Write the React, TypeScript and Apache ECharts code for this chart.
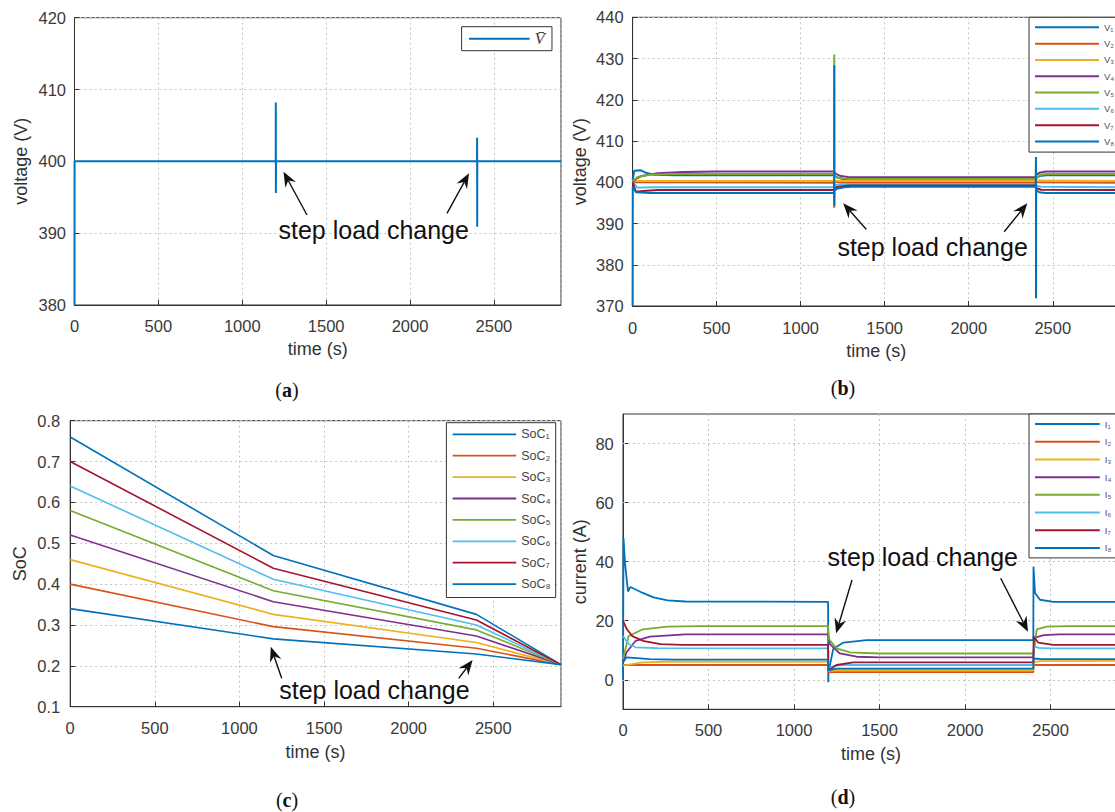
import React, { useEffect, useRef } from "react";
import * as echarts from "echarts";

// ---------------- DATA ----------------
const timeTickInterval = 500;
const timeMax = 2900;

// (a) mean bus voltage
const vMean = [[0, 380], [0.5, 400], [1199.5, 400], [1200, 408.2], [1200.5, 395.6], [1201, 400], [2399.5, 400], [2400, 403.3], [2400.5, 390.9], [2401, 400], [2900, 400]];

// (b) converter voltages
const v1 = [[0, 400.5], [10, 402.8], [50, 402.9], [80, 402.3], [130, 401.8], [250, 401.7], [1199, 401.7], [1201, 401.5], [1215, 401.2], [1250, 400.8], [1300, 400.6], [2399, 400.6], [2401, 401.0], [2420, 401.5], [2460, 401.7], [2900, 401.7]];
const v2 = [[0, 400.0], [1199, 399.9], [1200, 393.8], [1200.3, 400.1], [1230, 400.0], [2399, 400.0], [2401, 399.9], [2900, 399.9]];
const v3 = [[0, 400.3], [1199, 400.3], [1201, 400.4], [2399, 400.4], [2401, 400.3], [2900, 400.3]];
const v4 = [[0, 400.0], [20, 400.8], [60, 401.6], [150, 402.2], [300, 402.5], [500, 402.6], [1199, 402.6], [1200, 402.4], [1215, 401.9], [1240, 401.5], [1290, 401.2], [2399, 401.2], [2401, 401.8], [2420, 402.3], [2460, 402.6], [2900, 402.6]];
const v5 = [[0, 400.2], [30, 401.3], [100, 401.8], [250, 402.0], [1199, 402.0], [1200, 431.0], [1200.3, 401.5], [1215, 401.2], [1250, 400.9], [1300, 400.8], [2399, 400.8], [2400, 405.0], [2400.3, 401.0], [2420, 401.7], [2460, 402.0], [2900, 402.0]];
const v6 = [[0, 400.0], [30, 398.7], [100, 398.8], [1199, 398.8], [1201, 399.2], [1230, 399.5], [1280, 399.6], [2399, 399.6], [2401, 399.2], [2430, 398.9], [2900, 398.8]];
const v7 = [[0, 400.0], [20, 397.7], [60, 397.9], [150, 398.1], [1199, 398.1], [1201, 398.6], [1230, 399.0], [1290, 399.2], [2399, 399.2], [2401, 398.6], [2430, 398.2], [2900, 398.1]];
const v8 = [[0, 370], [1, 399], [20, 397.6], [100, 397.4], [1199, 397.4], [1200, 428.4], [1200.3, 394.3], [1201, 398.0], [1220, 398.5], [1260, 398.8], [1300, 398.9], [2399, 398.9], [2400, 406.1], [2400.3, 371.9], [2401, 398.0], [2420, 397.6], [2460, 397.4], [2900, 397.4]];

// (c) state of charge
const socTimes = [0, 1200, 2400, 2900];
const soc1 = [0.76, 0.470, 0.326, 0.203];
const soc2 = [0.40, 0.296, 0.243, 0.203];
const soc3 = [0.46, 0.326, 0.257, 0.203];
const soc4 = [0.52, 0.357, 0.273, 0.203];
const soc5 = [0.58, 0.384, 0.288, 0.203];
const soc6 = [0.64, 0.412, 0.300, 0.203];
const soc7 = [0.70, 0.439, 0.312, 0.203];
const soc8 = [0.34, 0.266, 0.229, 0.203];

// (d) converter currents
const i1 = [[0, 0], [3, 48], [12, 39.4], [29, 29.9], [43, 31.4], [116, 29.4], [178, 27.9], [261, 26.9], [364, 26.5], [1199, 26.4], [1200, -0.8], [1202, 2.6], [1229, 10.4], [1288, 12.6], [1424, 13.4], [2399, 13.4], [2400, 38.3], [2409, 29.4], [2438, 27.1], [2516, 26.4], [2900, 26.4]];
const i2 = [[0, 5.0], [1199, 5.0], [1201, 2.6], [2399, 2.6], [2401, 5.0], [2900, 5.0]];
const i3 = [[0, 4.8], [116, 5.9], [250, 6.1], [1199, 6.1], [1201, 3.0], [1240, 3.3], [2399, 3.3], [2401, 6.0], [2440, 6.3], [2900, 6.4]];
const i4 = [[0, 5.9], [21, 9.3], [74, 13.2], [157, 14.6], [364, 15.4], [1199, 15.4], [1210, 12.1], [1268, 8.9], [1366, 7.8], [1500, 7.6], [2399, 7.6], [2409, 14.3], [2460, 15.1], [2550, 15.4], [2900, 15.4]];
const i5 = [[0, 7.0], [33, 14.8], [116, 17.1], [261, 18.0], [450, 18.2], [1199, 18.2], [1205, 13.7], [1249, 10.6], [1327, 9.3], [1500, 8.9], [2399, 8.9], [2419, 17.1], [2477, 18.0], [2600, 18.2], [2900, 18.2]];
const i6 = [[0, 14.8], [33, 12.1], [74, 11.0], [200, 10.7], [1199, 10.6], [1201, 4.0], [1240, 4.8], [1300, 5.0], [2399, 5.0], [2402, 11.5], [2430, 10.8], [2500, 10.6], [2900, 10.6]];
const i7 = [[0, 19.9], [23, 17.1], [54, 14.8], [116, 13.2], [219, 12.1], [350, 11.8], [1199, 11.8], [1201, 3.1], [1249, 5.0], [1346, 5.9], [2399, 5.9], [2401, 14.6], [2428, 12.6], [2516, 11.8], [2900, 11.8]];
const i8 = [[0, 5.9], [21, 7.6], [157, 7.0], [300, 6.8], [1199, 6.8], [1201, 3.2], [1250, 3.8], [2399, 3.8], [2401, 7.2], [2450, 7.0], [2900, 7.0]];
const currentTicks = [0, 20, 40, 60, 80];

const vNames = ["V\u2081", "V\u2082", "V\u2083", "V\u2084", "V\u2085", "V\u2086", "V\u2087", "V\u2088"];
const socNames = ["SoC\u2081", "SoC\u2082", "SoC\u2083", "SoC\u2084", "SoC\u2085", "SoC\u2086", "SoC\u2087", "SoC\u2088"];
const iNames = ["I\u2081", "I\u2082", "I\u2083", "I\u2084", "I\u2085", "I\u2086", "I\u2087", "I\u2088"];
const meanName = "V\u0304";
const annotationText = "step load change";

// ---------------- STYLE ----------------
const COLORS = ["#0072BD", "#D95319", "#EDB120", "#7E2F8E", "#77AC30", "#4DBEEE", "#A2142F", "#0072BD"];
const SANS = "'Liberation Sans', Arial, Helvetica, sans-serif";
const SERIF = "'Liberation Serif', 'Times New Roman', serif";
const AXIS_COLOR = "#333";
const GRID_LINE = { color: "#c4c4c4", type: [2, 3] as any, width: 1 };
const plain = (v: number) => String(Math.round(v * 1000) / 1000);

function xAxisFor(gi: number, margin: number, nameGap: number) {
  return {
    type: "value", gridIndex: gi, min: 0, max: timeMax, interval: timeTickInterval,
    name: "time (s)", nameLocation: "middle", nameGap,
    nameTextStyle: { fontSize: 18, color: "#333", fontFamily: SANS },
    axisLine: { show: true, onZero: false, lineStyle: { color: AXIS_COLOR } },
    axisTick: { show: true, inside: true, length: 5, lineStyle: { color: AXIS_COLOR } },
    axisLabel: { margin, fontSize: 16.5, color: "#3a3a3a", fontFamily: SANS, showMaxLabel: false, formatter: plain },
    splitLine: { show: true, lineStyle: GRID_LINE },
  };
}

function yAxisFor(gi: number, name: string, min: number, max: number, interval: number | undefined, nameGap: number, margin: number, extra: any = {}) {
  return {
    type: "value", gridIndex: gi, min, max, interval,
    name, nameLocation: "middle", nameGap,
    nameTextStyle: { fontSize: 18, color: "#333", fontFamily: SANS },
    axisLine: { show: true, onZero: false, lineStyle: { color: AXIS_COLOR } },
    axisTick: { show: true, inside: true, length: 5, lineStyle: { color: AXIS_COLOR }, ...(extra.axisTick || {}) },
    axisLabel: { margin, fontSize: 16.5, color: "#3a3a3a", fontFamily: SANS, formatter: plain, ...(extra.axisLabel || {}) },
    splitLine: { show: true, lineStyle: GRID_LINE, ...(extra.splitLine || {}) },
  };
}

function lineSeries(name: string, data: any[], color: string, gi: number, width: number, extra: any = {}) {
  return {
    type: "line", name, data, xAxisIndex: gi, yAxisIndex: gi,
    symbol: "none", showSymbol: false, smooth: false, clip: true,
    lineStyle: { color, width }, itemStyle: { color },
    emphasis: { disabled: true }, silent: true, z: 3,
    ...extra,
  };
}

function arrow(x1: number, y1: number, x2: number, y2: number) {
  const dx = x2 - x1, dy = y2 - y1;
  const L = Math.hypot(dx, dy);
  const ux = dx / L, uy = dy / L, px = -uy, py = ux;
  const hl = 15, hw = 6, notch = 10;
  const bx = x2 - ux * hl, by = y2 - uy * hl;
  const nx = x2 - ux * notch, ny = y2 - uy * notch;
  return [
    { type: "line", shape: { x1, y1, x2: nx, y2: ny }, style: { stroke: "#111", lineWidth: 1.4 }, z: 50 },
    { type: "polygon", shape: { points: [[x2, y2], [bx + px * hw, by + py * hw], [nx, ny], [bx - px * hw, by - py * hw]] }, style: { fill: "#111" }, z: 50 },
  ];
}

function annText(x: number, y: number) {
  return { type: "text", x, y, z: 50, style: { text: annotationText, fill: "#111", font: `25px ${SANS}`, align: "center", verticalAlign: "middle" } };
}

function caption(letter: string, x: number, y: number) {
  return {
    type: "text", x, y, z: 50,
    style: {
      text: `{p|(}{b|${letter}}{p|)}`, align: "center", verticalAlign: "middle",
      rich: {
        p: { fontFamily: SERIF, fontSize: 20, fill: "#111", color: "#111" },
        b: { fontFamily: SERIF, fontSize: 20, fontWeight: "bold", fill: "#111", color: "#111" },
      },
    },
  };
}

function buildOption() {
  const grids = [
    { left: 74.5, top: 17.7, width: 486.5, height: 287.3 },
    { left: 632.6, top: 17.3, width: 487.4, height: 288.7 },
    { left: 70.2, top: 420.7, width: 490.8, height: 286 },
    { left: 623, top: 414, width: 496, height: 295.3 },
  ].map((g) => ({ ...g, show: true, borderColor: AXIS_COLOR, borderWidth: 1, backgroundColor: "#fff", containLabel: false, outerBoundsMode: "none" }));

  const series: any[] = [];
  series.push(lineSeries(meanName, vMean, COLORS[0], 0, 2));
  [v1, v2, v3, v4, v5, v6, v7, v8].forEach((d, k) => series.push(lineSeries(vNames[k], d, COLORS[k], 1, 2)));
  [soc1, soc2, soc3, soc4, soc5, soc6, soc7, soc8].forEach((vals, k) =>
    series.push(lineSeries(socNames[k], socTimes.map((t, j) => [t, vals[j]]), COLORS[k], 2, 1.6)));
  [i1, i2, i3, i4, i5, i6, i7, i8].forEach((d, k) =>
    series.push(lineSeries(iNames[k], d, COLORS[k], 3, 1.8, k === 0 ? {
      markLine: {
        silent: true, z: 1, symbol: ["none", "none"], label: { show: false },
        lineStyle: { ...GRID_LINE }, emphasis: { disabled: true },
        data: currentTicks.map((v) => ({ yAxis: v })),
      },
    } : {})));

  const legendBase = {
    orient: "vertical", itemGap: 0, backgroundColor: "#fff", borderColor: "#333", borderWidth: 1,
    borderRadius: 0, selectedMode: false, icon: "rect",
  };

  const legends = [
    {
      ...legendBase, left: 461.6, top: 26.7, padding: [0, 7, 0, 7.4], itemWidth: 60.6, itemHeight: 2,
      data: [meanName],
      textStyle: { fontSize: 17, fontStyle: "italic", fontFamily: SERIF, color: "#444", lineHeight: 24 },
    },
    {
      ...legendBase, left: 1029, top: 17.3, padding: [1.9, 8, 2.5, 6], itemWidth: 64, itemHeight: 2,
      data: vNames,
      textStyle: { fontSize: 9.5, color: "#555", fontFamily: SANS, lineHeight: 16.3 },
    },
    {
      ...legendBase, left: 446.4, top: 422.7, padding: [0.9, 5, 2.7, 6.2], itemWidth: 63.6, itemHeight: 1.8,
      data: socNames,
      textStyle: { fontSize: 12.5, color: "#444", fontFamily: SANS, lineHeight: 21.4 },
    },
    {
      ...legendBase, left: 1029, top: 414, padding: [1.2, 8, 1.1, 6], itemWidth: 64.8, itemHeight: 2,
      data: iNames,
      textStyle: { fontSize: 9.5, color: "#555", fontFamily: SANS, lineHeight: 17.7 },
    },
  ];

  const graphic: any[] = [
    annText(373.7, 230), ...arrow(307, 215, 283.5, 171.7), ...arrow(447, 213.3, 469, 173.3),
    annText(932.6, 246.7), ...arrow(866.2, 229.3, 843.2, 203.3), ...arrow(1004.2, 231.7, 1027.3, 203.3),
    annText(374.4, 690), ...arrow(281.7, 678.3, 270.8, 646.7), ...arrow(458.7, 678.3, 472.6, 660),
    annText(922.8, 556.7), ...arrow(852, 580, 836.1, 633.3), ...arrow(1000.7, 578.3, 1028, 631.7),
    caption("a", 287, 390), caption("b", 843, 388.3), caption("c", 287, 800), caption("d", 843, 797),
  ];

  return {
    animation: false,
    backgroundColor: "#fff",
    textStyle: { fontFamily: SANS },
    grid: grids,
    xAxis: [xAxisFor(0, 12, 35), xAxisFor(1, 13, 36), xAxisFor(2, 12.5, 36), xAxisFor(3, 12.6, 36)],
    yAxis: [
      yAxisFor(0, "voltage (V)", 380, 420, 10, 45, 8.5),
      yAxisFor(1, "voltage (V)", 370, 440, 10, 44, 9),
      yAxisFor(2, "SoC", 0.1, 0.8, 0.1, 41, 10, { axisLabel: { formatter: (v: number) => v.toFixed(1) } }),
      yAxisFor(3, "current (A)", -10, 90, undefined, 34.5, 9.2, {
        axisLabel: { customValues: currentTicks },
        axisTick: { customValues: currentTicks },
        splitLine: { show: false },
      }),
    ],
    legend: legends,
    series,
    graphic,
  };
}

export default function App() {
  const ref = useRef<HTMLDivElement>(null);
  useEffect(() => {
    document.body.style.margin = "0";
    document.body.style.overflow = "hidden";
    const chart = echarts.init(ref.current!, null, { renderer: "svg" });
    chart.setOption(buildOption() as any);
    return () => chart.dispose();
  }, []);
  return (
    <div
      ref={ref}
      style={{ position: "fixed", left: 0, top: 0, width: 1130, height: 812, background: "#fff" }}
    />
  );
}
